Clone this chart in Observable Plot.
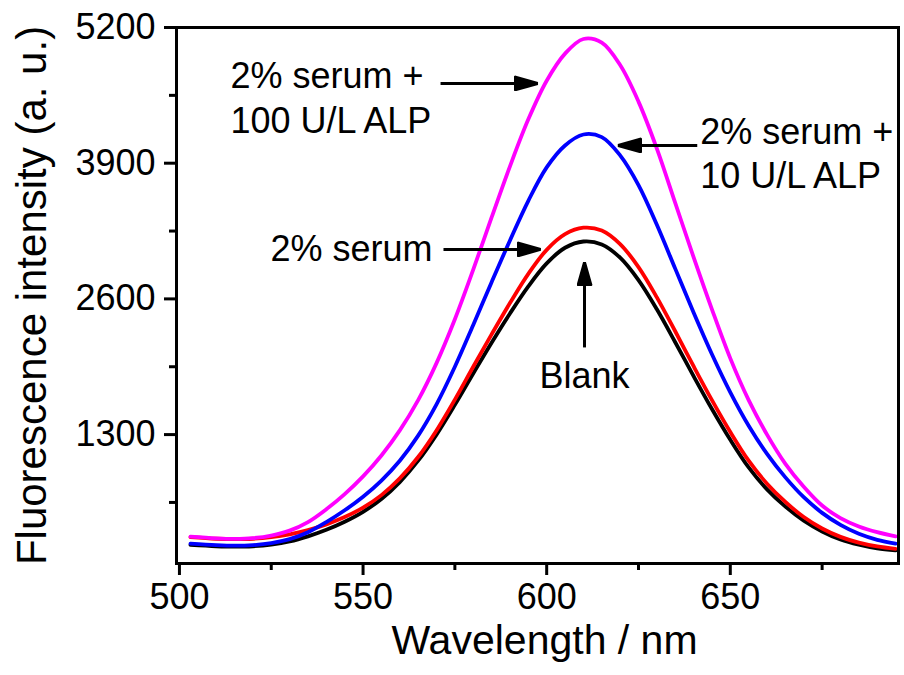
<!DOCTYPE html>
<html><head><meta charset="utf-8">
<script src="https://cdn.jsdelivr.net/npm/d3@7"></script>
<script src="https://cdn.jsdelivr.net/npm/@observablehq/plot@0.6"></script>
<style>html,body{margin:0;padding:0;background:#fff;} #chart{width:904px;height:675px;}</style>
</head><body><div id="chart"></div>
<script>
// ---- data ----
const wavelengths = [503,510,515,520,525,530,535,540,545,550,555,560,565,570,575,580,585,590,595,600,605,610,615,620,625,630,635,640,645,650,655,660,665,670,675,680,685,690,695];
const blank       = [243,230,226,230,246,276,325,388,465,560,683,845,1050,1300,1585,1885,2180,2460,2720,2940,3090,3150,3122,2995,2780,2500,2185,1860,1545,1250,985,775,610,475,372,295,245,210,190];
const serum       = [318,302,298,302,318,345,385,440,510,600,720,880,1085,1340,1635,1950,2260,2560,2840,3070,3220,3282,3255,3125,2905,2615,2290,1955,1630,1325,1050,830,655,510,400,320,265,228,205];
const serumAlp10  = [255,241,236,241,260,298,365,462,575,705,860,1050,1290,1590,1950,2350,2760,3160,3540,3860,4070,4175,4150,3975,3690,3310,2890,2470,2070,1705,1385,1115,890,700,550,435,350,292,255];
const serumAlp100 = [322,306,301,308,333,380,462,585,730,900,1100,1340,1630,1985,2405,2880,3380,3870,4320,4690,4950,5090,5055,4840,4490,4040,3520,3000,2500,2030,1630,1300,1020,800,620,500,420,365,325];
const seriesNames  = ["Blank","2% serum","2% serum + 10 U/L ALP","2% serum + 100 U/L ALP"];
const seriesColors = ["#000000","#ff0000","#0000ff","#ff00ff"];

const xTicksMajor = [500,550,600,650];
const xTicksMinor = [525,575,625,675];
const yTicksMajor = [1300,2600,3900,5200];
const yTicksMinor = [650,1950,3250,4550];
const xDomain = [499.2, 695.8];
const yDomain = [65, 5200];
const xTitle = "Wavelength / nm";
const yTitle = "Fluorescence intensity (a. u.)";

// annotations (data coordinates)
const labelTexts   = ["2% serum +\n100 U/L ALP", "2% serum", "2% serum +\n10 U/L ALP", "Blank"];
const labelX       = [513.9, 568.9, 641.8, 610.3];
const labelY       = [4194, 2959, 3658, 1742];
const labelAnchors = ["start", "end", "start", "middle"];
const arrowX1 = [571.1, 571.9, 641.0, 610.3];
const arrowY1 = [4664, 3074, 4070, 2135];
const arrowX2 = [595.9, 596.7, 621.1, 610.3];
const arrowY2 = [4664, 3074, 4070, 2892];

// ---- chart ----
function filledArrow(color) {
  const m = d3.create("svg:marker")
    .attr("viewBox", "-24 -8 26 16")
    .attr("markerWidth", 26).attr("markerHeight", 16)
    .attr("markerUnits", "userSpaceOnUse")
    .attr("refX", -6).attr("refY", 0)
    .attr("orient", "auto");
  m.append("path").attr("d", "M0,0L-23,-6.5L-23,6.5Z").attr("fill", color);
  return m.node();
}

const series = [blank, serum, serumAlp10, serumAlp100];
const idx = d3.range(arrowX1.length);

const chart = Plot.plot({
  width: 904, height: 675,
  marginLeft: 176, marginRight: 6, marginTop: 27, marginBottom: 112,
  style: {fontFamily: "'Liberation Sans', Arial, Helvetica, sans-serif", background: "#fff", color: "#000", overflow: "visible"},
  x: {domain: xDomain, label: null},
  y: {domain: yDomain, label: null},
  marks: [
    ...series.map((vals, s) => Plot.line(wavelengths, {
      x: wavelengths, y: vals, stroke: seriesColors[s], strokeWidth: 3.8, curve: "catmull-rom", title: () => seriesNames[s]
    })),
    Plot.frame({stroke: "#000", strokeWidth: 3}),
    Plot.axisX({ticks: xTicksMajor, tickSize: 12, tickPadding: 8, strokeWidth: 3, fontSize: 36, tickFormat: d => String(d), label: null}),
    Plot.axisX({ticks: xTicksMinor, tickSize: 7, strokeWidth: 3, tickFormat: () => "", label: null}),
    Plot.axisY({ticks: yTicksMajor, tickSize: 12, tickPadding: 9, strokeWidth: 3, fontSize: 36, tickFormat: d => String(d), label: null}),
    Plot.axisY({ticks: yTicksMinor, tickSize: 7, strokeWidth: 3, tickFormat: () => "", label: null}),
    Plot.text([xTitle], {frameAnchor: "bottom", dy: 90, dx: 7, lineAnchor: "bottom", fontSize: 41, fill: "#000"}),
    Plot.text([yTitle], {frameAnchor: "left", rotate: -90, dx: -131, textAnchor: "middle", lineAnchor: "bottom", fontSize: 42, fill: "#000"}),
    Plot.link(idx, {x1: i => arrowX1[i], y1: i => arrowY1[i], x2: i => arrowX2[i], y2: i => arrowY2[i], stroke: "#000", strokeWidth: 3, markerEnd: filledArrow}),
    ...labelTexts.map((t, i) => Plot.text([t], {
      x: [labelX[i]], y: [labelY[i]], text: d => d, textAnchor: labelAnchors[i], lineAnchor: "bottom", lineHeight: 1.24, fontSize: 36, fill: "#000"
    }))
  ]
});
document.getElementById("chart").appendChild(chart);
</script>
</body></html>
